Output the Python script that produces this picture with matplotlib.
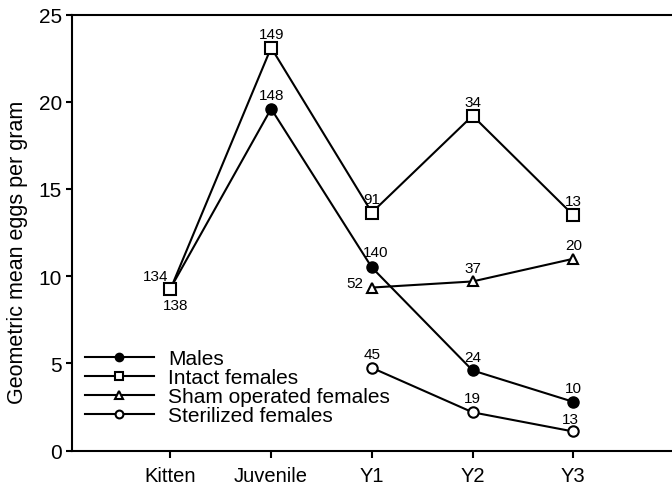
import numpy as np
import matplotlib
matplotlib.use("Agg")
import matplotlib.pyplot as plt

plt.rcParams['font.family'] = ['Liberation Sans', 'DejaVu Sans']

stages = ['Kitten', 'Juvenile', 'Y1', 'Y2', 'Y3']
x = np.arange(1, 6)

# geometric mean eggs per gram, with sample size n at each stage
males = [9.3, 19.6, 10.5, 4.6, 2.8]
males_n = [134, 148, 140, 24, 10]
intact = [9.25, 23.1, 13.65, 19.2, 13.5]
intact_n = [138, 149, 91, 34, 13]
sham = [np.nan, np.nan, 9.35, 9.7, 11.0]
sham_n = [None, None, 52, 37, 20]
sterilized = [np.nan, np.nan, 4.75, 2.2, 1.1]
sterilized_n = [None, None, 45, 19, 13]

fig = plt.figure(figsize=(6.72, 4.85), dpi=100)
ax = fig.add_axes([0.1067, 0.0687, 0.8933, 0.8993])

lw = 1.5
ax.plot(x, sterilized, color='black', lw=lw, marker='o', ms=7.5, mfc='white',
        mec='black', mew=1.5, label='Sterilized females', zorder=3)
ax.plot(x, sham, color='black', lw=lw, marker='^', ms=7, mfc='white',
        mec='black', mew=1.5, label='Sham operated females', zorder=3)
ax.plot(x, males, color='black', lw=lw, marker='o', ms=8, mfc='black',
        mec='black', label='Males', zorder=3)
ax.plot(x, intact, color='black', lw=lw, marker='s', ms=8, mfc='white',
        mec='black', mew=1.5, label='Intact females', zorder=4)

def label_points(ys, ns, special=None):
    special = special or {}
    for xi, yi, ni in zip(x, ys, ns):
        if ni is None:
            continue
        dx, dy = special.get(xi, (0, 10))
        ax.annotate(str(ni), (xi, yi), xytext=(dx, dy), textcoords='offset points',
                    ha='center', va='center', fontsize=11)

label_points(males, males_n, {1: (-11, 9), 3: (3, 11)})
label_points(intact, intact_n, {1: (4, -11)})
label_points(sham, sham_n, {3: (-12, 3)})
label_points(sterilized, sterilized_n, {5: (-2, 9)})

ax.set_xlim(0.02, 5.98)
ax.set_ylim(0, 25)
ax.set_xticks(x)
ax.set_xticklabels(stages)
ax.set_yticks([0, 5, 10, 15, 20, 25])
ax.set_ylabel('Geometric mean eggs per gram', fontsize=15.5)
ax.yaxis.set_label_coords(-0.072, 0.456)

for side in ['left', 'bottom', 'top']:
    ax.spines[side].set_linewidth(1.5)
ax.spines['right'].set_visible(False)
ax.tick_params(axis='y', direction='out', length=4, width=1.5, labelsize=15, pad=3)
ax.tick_params(axis='x', direction='out', length=5, width=1.5, labelsize=14.5, pad=6)

handles, labels = ax.get_legend_handles_labels()
order = [2, 3, 1, 0]
leg = ax.legend([handles[i] for i in order], [labels[i] for i in order],
                loc='upper left', bbox_to_anchor=(0.022, 0.232), frameon=False,
                fontsize=15, handlelength=3.3, handletextpad=0.7,
                labelspacing=0.0, borderpad=0, borderaxespad=0, markerscale=0.75)

fig.savefig('out.png', dpi=100)
